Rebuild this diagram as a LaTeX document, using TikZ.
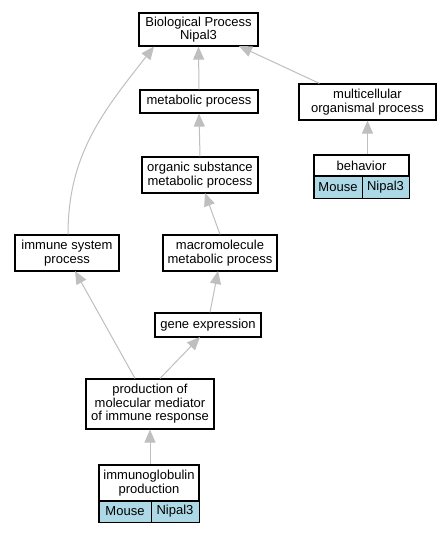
\documentclass[tikz,border=0pt]{standalone}
\usepackage{fontspec}
\setmainfont{Liberation Sans}
\usetikzlibrary{arrows.meta}
\begin{document}
\begin{tikzpicture}[x=1pt,y=-1pt,
  box/.style={draw=black,line width=1.2pt,fill=white,inner sep=0pt,align=center,font=\fontsize{13}{13.5}\selectfont},
  cell/.style={draw=black,line width=0.8pt,inner sep=0pt,font=\fontsize{13}{13.5}\selectfont},
  edge/.style={draw=black!25,line width=1pt,-{Triangle[width=11pt,length=13pt]}}]
\definecolor{lb}{HTML}{ADD8E6}
\useasboundingbox (0,0) rectangle (440,533);
\fill[white] (0,0) rectangle (440,533);
% nodes
\node[box,minimum width=119pt,minimum height=33pt] (bp) at (198.5,29.5) {Biological Process\\Nipal3};
\node[box,minimum width=118pt,minimum height=23pt] (met) at (199,101.5) {metabolic process};
\node[box,minimum width=137pt,minimum height=36pt] (multi) at (367.5,102) {multicellular\\organismal process};
\node[box,minimum width=116pt,minimum height=36pt] (org) at (200,175) {organic substance\\metabolic process};
\node[box,minimum width=104pt,minimum height=36pt] (imm) at (67,253) {immune system\\process};
\node[box,minimum width=114pt,minimum height=36pt] (macro) at (220,253) {macromolecule\\metabolic process};
\node[box,minimum width=106pt,minimum height=24pt] (gene) at (208,325) {gene expression};
\node[box,minimum width=128pt,minimum height=50pt] (prod) at (150,404) {production of\\molecular mediator\\of immune response};
% behavior
\node[box,minimum width=95pt,minimum height=21pt] (beh) at (361.5,165.5) {behavior};
\node[cell,fill=lb,minimum width=48pt,minimum height=22pt] (behm) at (338,187) {Mouse};
\node[cell,fill=lb,minimum width=47pt,minimum height=22pt] (behn) at (385.5,187) {Nipal3};
\draw[line width=1.2pt] (beh.north west) rectangle (behn.south east);
% immunoglobulin
\node[box,minimum width=100pt,minimum height=36pt] (igp) at (149,483) {immunoglobulin\\production};
\node[cell,fill=lb,minimum width=52pt,minimum height=21pt] (igm) at (125,511.5) {Mouse};
\node[cell,fill=lb,minimum width=48pt,minimum height=21pt] (ign) at (175,511.5) {Nipal3};
\draw[line width=1.2pt] (igp.north west) rectangle (ign.south east);
% edges
\draw[edge] (met.north) -- (bp.south);
\draw[edge] (multi.north west) ++(21,0) -- (239,46);
\coordinate (bpl) at (154,46.5);
\draw[edge] (imm.north) ++(1,0) to[out=90,in=-128] (bpl);
\draw[edge] (org.north) -- (met.south);
\draw[edge] (beh.north) ++(6,0) -- (multi.south);
\draw[edge] (macro.north) -- (205,193);
\draw[edge] (gene.north) ++(2,0) -- (218,271);
\draw[edge] (prod.north) ++(-15,0) -- (75,271);
\draw[edge] (prod.north) ++(10,0) -- (200,337);
\draw[edge] (igp.north) ++(1,0) -- (prod.south);
\end{tikzpicture}
\end{document}
